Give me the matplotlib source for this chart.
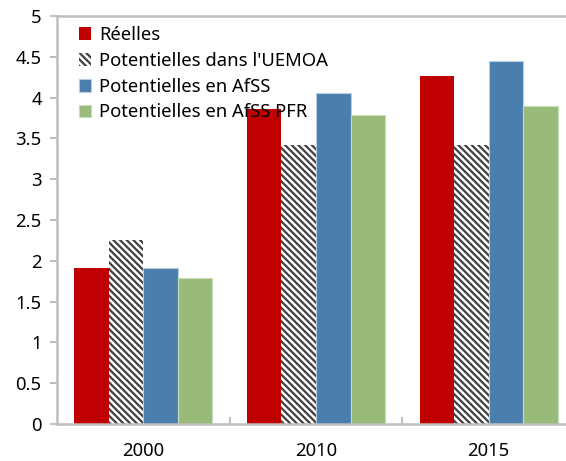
import matplotlib
matplotlib.use("Agg")
import matplotlib.pyplot as plt
import numpy as np

# data
years = ["2000", "2010", "2015"]
reelles = [1.91, 3.86, 4.27]
pot_uemoa = [2.26, 3.42, 3.42]
pot_afss = [1.91, 4.06, 4.45]
pot_afss_pfr = [1.79, 3.79, 3.90]
labels = ["Réelles", "Potentielles dans l'UEMOA", "Potentielles en AfSS", "Potentielles en AfSS PFR"]

plt.rcParams['font.family'] = ['Noto Sans', 'DejaVu Sans']
plt.rcParams['hatch.linewidth'] = 1.6

fig = plt.figure(figsize=(5.66, 4.61), dpi=100)
# axes run past the right edge, as in the (cropped) reference
ax = fig.add_axes([57 / 566, 1 - 424 / 461, 518 / 566, 408 / 461])

x = np.arange(len(years))
w = 0.2
grey = '#BFBFBF'
fs = 13.3

ax.bar(x - 1.5 * w, reelles, w, color='#C00000', label=labels[0])
ax.bar(x - 0.5 * w, pot_uemoa, w, color='white', edgecolor='#404040', linewidth=0,
       hatch='\\\\\\\\\\', label=labels[1])
ax.bar(x + 0.5 * w, pot_afss, w, color='#4A7EAD', edgecolor='#B9CDE0', linewidth=0.8, label=labels[2])
ax.bar(x + 1.5 * w, pot_afss_pfr, w, color='#98BB7A', edgecolor='#C8DCB8', linewidth=0.8, label=labels[3])

ax.set_xlim(-0.5, 2.5)
ax.set_ylim(0, 5)
ax.set_yticks(np.arange(0, 5.01, 0.5))
ax.set_yticklabels(['0', '0.5', '1', '1.5', '2', '2.5', '3', '3.5', '4', '4.5', '5'])

# category labels without tick marks, boundary ticks pointing in
ax.set_xticks(x)
ax.set_xticklabels(years)
ax.tick_params(axis='x', length=0, pad=13, labelsize=fs, colors='black')
ax.set_xticks([0.5, 1.5], minor=True)
ax.tick_params(axis='x', which='minor', direction='in', length=5, color=grey, width=1.5)
ax.tick_params(axis='y', direction='out', length=5, color=grey, width=1.5, labelsize=fs, pad=6)

for s in ax.spines.values():
    s.set_color(grey)
    s.set_linewidth(1.8)

leg = ax.legend(loc='upper left', bbox_to_anchor=(0.022, 1.0), frameon=False, fontsize=fs,
                handlelength=0.7, handleheight=0.7, handletextpad=0.4, labelspacing=0.42,
                borderaxespad=0.15)

fig.savefig("out.png", dpi=100)
